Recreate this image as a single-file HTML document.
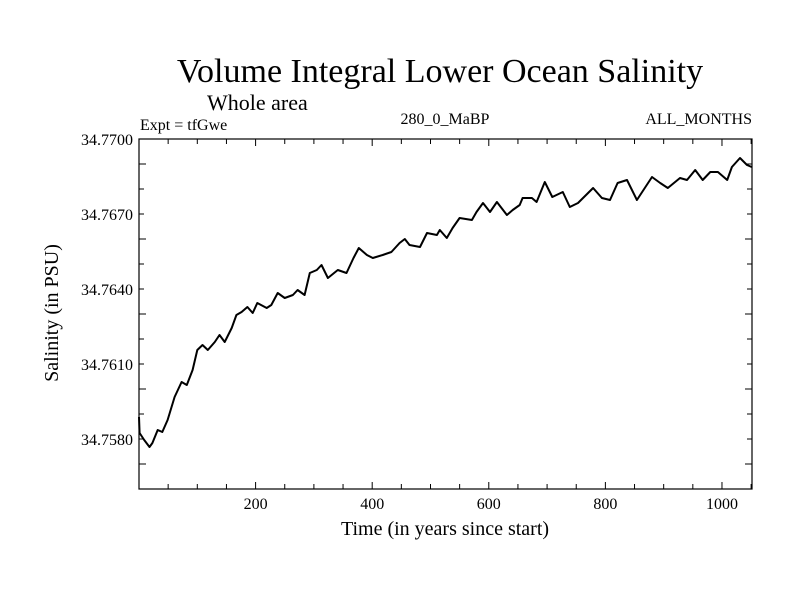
<!DOCTYPE html>
<html><head><meta charset="utf-8"><style>
html,body{margin:0;padding:0;background:#fff;}
svg{display:block;font-family:"Liberation Serif",serif;}
</style></head><body>
<svg id="chart" width="800" height="600">
<text x="440" y="82" font-size="34" text-anchor="middle">Volume Integral Lower Ocean Salinity</text>
<text x="207" y="110" font-size="22">Whole area</text>
<text x="140" y="130" font-size="16">Expt = tfGwe</text>
<text x="445" y="124" font-size="16" text-anchor="middle">280_0_MaBP</text>
<text x="752" y="124" font-size="16" text-anchor="end">ALL_MONTHS</text>
<text x="445" y="535" font-size="20" text-anchor="middle">Time (in years since start)</text>
<text transform="translate(58,313) rotate(-90)" font-size="20" text-anchor="middle">Salinity (in PSU)</text>
<g id="axes"></g>
<path id="line" fill="none" stroke="#000" stroke-width="2" stroke-linejoin="round"></path>
<rect x="139" y="139" width="613" height="350" fill="none" stroke="#000" stroke-width="1.2"></rect>
</svg>
<script>
const years=[0,1,9,18,23,32,40,49,61,73,82,92,100,109,118,130,138,147,159,167,176,186,195,203,219,227,238,250,264,272,284,293,305,313,324,341,356,368,377,391,401,418,433,447,456,464,482,494,511,516,528,538,550,571,579,590,602,614,631,641,653,658,674,682,696,709,727,739,753,779,794,808,821,837,854,880,894,907,928,940,954,967,980,993,1009,1017,1031,1043,1051];
const salinity=[34.75888,34.75824,34.75796,34.75768,34.75784,34.75836,34.75828,34.75876,34.75968,34.76028,34.76016,34.76076,34.76156,34.76176,34.76156,34.76188,34.76216,34.76188,34.76244,34.76296,34.76308,34.76328,34.76304,34.76344,34.76324,34.76336,34.76384,34.76364,34.76376,34.76396,34.76376,34.76464,34.76476,34.76496,34.76444,34.76476,34.76464,34.76524,34.76564,34.76536,34.76524,34.76536,34.76548,34.76584,34.766,34.76576,34.76568,34.76624,34.76616,34.76636,34.76604,34.76644,34.76684,34.76676,34.76708,34.76744,34.76708,34.76748,34.76696,34.76716,34.76736,34.76764,34.76764,34.76748,34.76828,34.76768,34.76788,34.76728,34.76744,34.76804,34.76764,34.76756,34.76824,34.76836,34.76756,34.76848,34.76824,34.76804,34.76844,34.76836,34.76876,34.76836,34.76868,34.76868,34.76836,34.76888,34.76924,34.76896,34.76888];
const xTickLabels=[200,400,600,800,1000];
const yTickLabels=["34.7580","34.7610","34.7640","34.7670","34.7700"];
const X0=139,X1=752,Y0=489,Y1=139,XMIN=0,XMAX=1051.5,YMIN=34.756,YMAX=34.770;
function sx(v){return X0+(v-XMIN)/(XMAX-XMIN)*(X1-X0);}
function sy(v){return Y0-(v-YMIN)/(YMAX-YMIN)*(Y0-Y1);}
const NS="http://www.w3.org/2000/svg";
const axes=document.getElementById('axes');
function ln(x1,y1,x2,y2,name){const l=document.createElementNS(NS,'line');
l.setAttribute('x1',x1);l.setAttribute('y1',y1);l.setAttribute('x2',x2);l.setAttribute('y2',y2);
l.setAttribute('stroke','#000');l.setAttribute('stroke-width','1');


axes.appendChild(l);}
function tx(x,y,s,anchor,name){const t=document.createElementNS(NS,'text');
t.setAttribute('x',x);t.setAttribute('y',y);t.setAttribute('font-size','16');t.setAttribute('text-anchor',anchor);t.textContent=s;


axes.appendChild(t);}
for(let v=50;v<XMAX;v+=50){const x=sx(v);const major=v%200===0;const L=major?7:5;
ln(x,Y0,x,Y0-L,'x-tick');ln(x,Y1,x,Y1+L,'x-tick-top');}
xTickLabels.forEach(v=>tx(sx(v),Y0+20,String(v),'middle','x-tick-label'));
for(let i=0;i<=14;i++){const v=YMIN+i*0.001;const y=sy(v);const major=(i%3===1);const L=major?7:5;
ln(X0,y,X0+L,y,'y-tick');ln(X1,y,X1-L,y,'y-tick-right');}
yTickLabels.forEach(s=>tx(X0-6,sy(parseFloat(s))+6,s,'end','y-tick-label'));
let d='';years.forEach((yr,i)=>{d+=(i?'L':'M')+sx(yr).toFixed(1)+','+sy(salinity[i]).toFixed(1);});
document.getElementById('line').setAttribute('d',d);
</script>
</body></html>
